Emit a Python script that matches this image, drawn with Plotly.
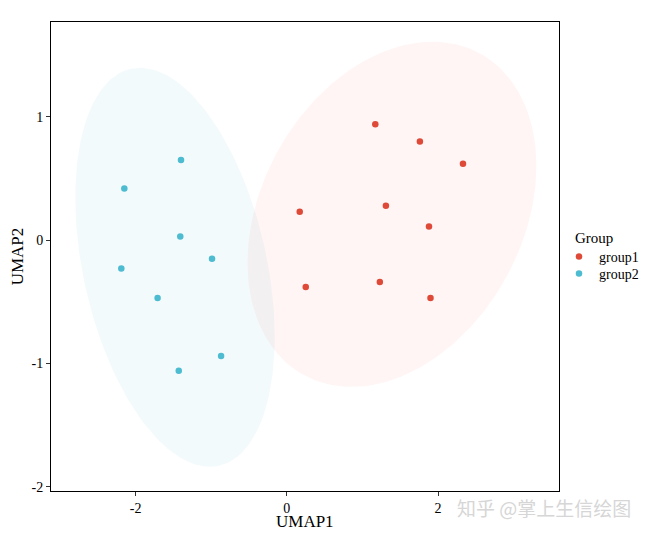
import numpy as np
import plotly.graph_objects as go

# data
g1_x = [1.17, 1.76, 2.33, 0.17, 1.31, 1.88, 0.25, 1.23, 1.90]
g1_y = [0.94, 0.80, 0.62, 0.23, 0.28, 0.11, -0.38, -0.34, -0.47]
g2_x = [-1.40, -2.15, -1.41, -0.99, -2.19, -1.71, -0.87, -1.43]
g2_y = [0.65, 0.42, 0.03, -0.15, -0.23, -0.47, -0.94, -1.06]

# ellipse params: center and covariance-like spread (data units)
ell1_center = [1.39, 0.21]
ell1_cov = [[3.65, 0.75], [0.75, 1.96]]
ell2_center = [-1.48, -0.22]
ell2_cov = [[1.74, -0.745], [-0.745, 2.62]]

x_ticks = [-2, 0, 2]
y_ticks = [-2, -1, 0, 1]

col1 = "#DE4A37"
col2 = "#4DBBD0"

def ellipse(center, cov, n=200):
    L = np.linalg.cholesky(np.array(cov))
    t = np.linspace(0, 2 * np.pi, n)
    circ = np.vstack([np.cos(t), np.sin(t)])
    pts = L @ circ
    return pts[0] + center[0], pts[1] + center[1]

fig = go.Figure()
for c, cov, col in [(ell1_center, ell1_cov, "rgba(230,75,53,0.055)"),
                    (ell2_center, ell2_cov, "rgba(77,187,213,0.065)")]:
    ex, ey = ellipse(c, cov)
    fig.add_trace(go.Scatter(x=ex, y=ey, mode="lines", fill="toself",
                             fillcolor=col, line=dict(width=0), hoverinfo="skip",
                             showlegend=False))

fig.add_trace(go.Scatter(x=g1_x, y=g1_y, mode="markers", name="group1",
                         marker=dict(color=col1, size=6.5), legend="legend"))
fig.add_trace(go.Scatter(x=g2_x, y=g2_y, mode="markers", name="group2",
                         marker=dict(color=col2, size=6.5), legend="legend2"))

font_family = "Liberation Serif"
leg_common = dict(font=dict(size=14), xanchor="left", yanchor="middle",
                  itemwidth=30, bgcolor="rgba(0,0,0,0)")
fig.update_layout(
    width=642, height=528,
    margin=dict(l=43, r=91, t=14, b=45, autoexpand=False),
    plot_bgcolor="white", paper_bgcolor="white",
    font=dict(family=font_family, color="black"),
    legend=dict(x=1.0, y=0.499, **leg_common),
    legend2=dict(x=1.0, y=0.4627, **leg_common),
    xaxis=dict(range=[-3.12, 3.60], tickvals=x_ticks, ticktext=[str(v) for v in x_ticks],
               showgrid=False, zeroline=False, showline=True, linecolor="black", linewidth=1,
               mirror=True, ticks="outside", ticklen=4, tickcolor="#333", automargin=False,
               tickfont=dict(size=14, color="black")),
    yaxis=dict(range=[-2.035, 1.77], tickvals=y_ticks, ticktext=[str(v) for v in y_ticks],
               showgrid=False, zeroline=False, showline=True, linecolor="black", linewidth=1,
               mirror=True, ticks="outside", ticklen=4, tickcolor="#333", automargin=False,
               tickfont=dict(size=14, color="black"),
               title=dict(text="UMAP2", font=dict(size=17), standoff=6)),
)
fig.add_annotation(text="UMAP1", xref="paper", yref="paper", x=0.5, y=-0.064,
                   xanchor="center", yanchor="middle", showarrow=False,
                   font=dict(size=17, color="black"))
fig.add_annotation(text="Group", xref="paper", yref="paper", x=1.028, y=0.539,
                   xanchor="left", yanchor="middle", showarrow=False,
                   font=dict(size=15, color="black"))
fig.add_annotation(text="知乎 @掌上生信绘图", xref="paper", yref="paper",
                   x=1.146, y=-0.036, xanchor="right", yanchor="middle", showarrow=False,
                   font=dict(family="Noto Sans CJK SC", size=19, color="#d6d6d6"))
fig.write_html("out.html")
